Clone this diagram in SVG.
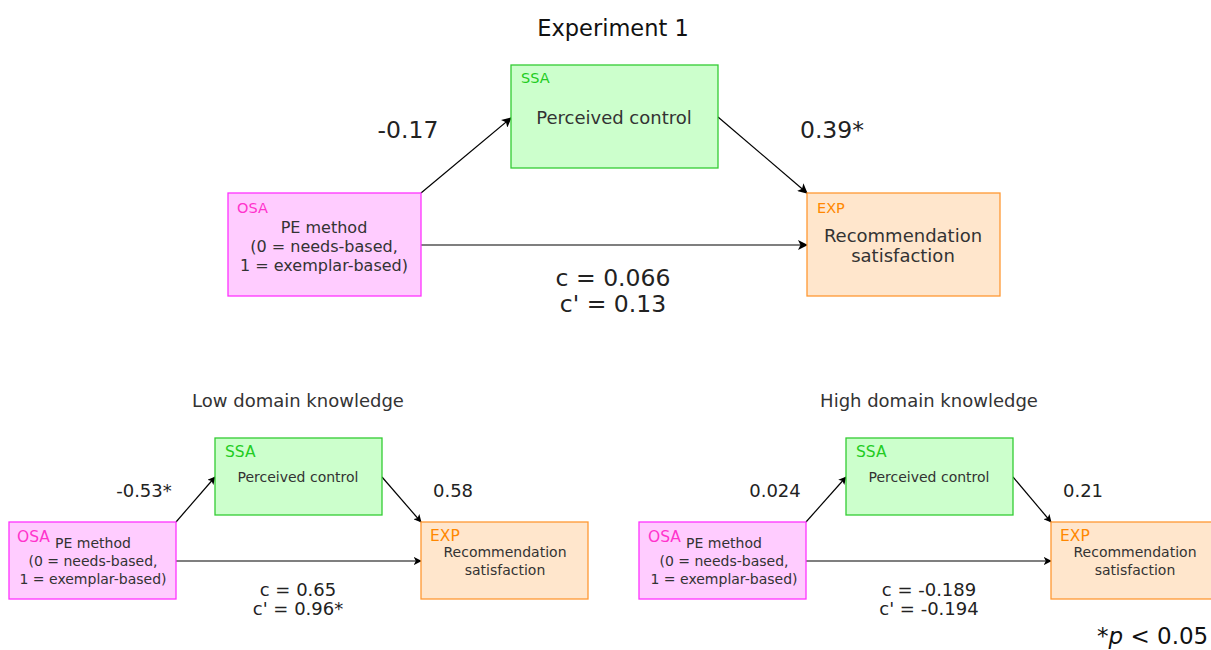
<svg xmlns="http://www.w3.org/2000/svg" width="1211" height="650" viewBox="0 0 1211 650">
  <defs>
    <marker id="arrow" viewBox="0 0 10 10" refX="9" refY="5" markerWidth="8" markerHeight="8" markerUnits="userSpaceOnUse" orient="auto">
      <path d="M0,0 L10,5 L0,10 L2.5,5 Z" fill="#000"/>
    </marker>
    <marker id="arrow-big" viewBox="0 0 10 10" refX="9" refY="5" markerWidth="10" markerHeight="10" markerUnits="userSpaceOnUse" orient="auto">
      <path d="M0,0 L10,5 L0,10 L2.5,5 Z" fill="#000"/>
    </marker>
  </defs>
  <style>
    text { font-family: "DejaVu Sans", "Liberation Sans", sans-serif; }
    .ssa { fill: #ccffcc; stroke: #33cc33; stroke-width: 1.3; }
    .osa { fill: #ffccff; stroke: #ff33ff; stroke-width: 1.3; }
    .exp { fill: #ffe6cc; stroke: #ff9933; stroke-width: 1.3; }
    .tag-ssa { fill: #22cc22; }
    .tag-osa { fill: #ff33cc; }
    .tag-exp { fill: #ff8800; }
    .node { fill: #333333; text-anchor: middle; }
    .lbl { fill: #222222; text-anchor: middle; }
    .edge { stroke: #000; stroke-width: 1.2; fill: none; }
  </style>
  <rect width="1211" height="650" fill="#ffffff"/>

  <!-- Experiment 1 (full sample) -->
  <text x="613" y="36" text-anchor="middle" font-size="22.5" fill="#111">Experiment 1</text>

  <g id="connectors-top">
    <path class="edge" d="M421,193 L511,118" marker-end="url(#arrow-big)"/>
    <path class="edge" d="M718,117 L807,193" marker-end="url(#arrow-big)"/>
    <path class="edge" d="M421,245 L807,245" marker-end="url(#arrow-big)"/>
  </g>

  <g id="top-ssa">
    <rect class="ssa" x="511" y="65" width="207" height="103"/>
    <text class="tag-ssa" x="521" y="83" font-size="14.5">SSA</text>
    <text class="node" x="614" y="124" font-size="18">Perceived control</text>
  </g>
  <g id="top-osa">
    <rect class="osa" x="228" y="193" width="193" height="103"/>
    <text class="tag-osa" x="237" y="213" font-size="14.5">OSA</text>
    <text class="node" x="324" y="233" font-size="16">PE method</text>
    <text class="node" x="324" y="252" font-size="16">(0 = needs-based,</text>
    <text class="node" x="324" y="271" font-size="16">1 = exemplar-based)</text>
  </g>
  <g id="top-exp">
    <rect class="exp" x="807" y="193" width="193" height="103"/>
    <text class="tag-exp" x="817" y="213" font-size="14.5">EXP</text>
    <text class="node" x="903" y="242" font-size="18">Recommendation</text>
    <text class="node" x="903" y="262" font-size="18">satisfaction</text>
  </g>

  <g id="labels-top">
    <text class="lbl" x="408" y="138" font-size="23.5">-0.17</text>
    <text class="lbl" x="832" y="138" font-size="23.5">0.39*</text>
    <text class="lbl" x="613" y="286" font-size="23.5">c = 0.066</text>
    <text class="lbl" x="613" y="312" font-size="23.5">c' = 0.13</text>
  </g>

  <!-- Low domain knowledge -->
  <text x="298" y="407" text-anchor="middle" font-size="18" fill="#333">Low domain knowledge</text>

  <g id="connectors-low">
    <path class="edge" d="M176,522 L215,477" marker-end="url(#arrow)"/>
    <path class="edge" d="M382,477 L421,522" marker-end="url(#arrow)"/>
    <path class="edge" d="M176,561 L421,561" marker-end="url(#arrow)"/>
  </g>

  <g id="low-ssa">
    <rect class="ssa" x="215" y="438" width="167" height="77"/>
    <text class="tag-ssa" x="225" y="457" font-size="15.5">SSA</text>
    <text class="node" x="298" y="482" font-size="14">Perceived control</text>
  </g>
  <g id="low-osa">
    <rect class="osa" x="9" y="522" width="167" height="77"/>
    <text class="tag-osa" x="17" y="542" font-size="15.5">OSA</text>
    <text class="node" x="93" y="548" font-size="14">PE method</text>
    <text class="node" x="93" y="566" font-size="14">(0 = needs-based,</text>
    <text class="node" x="93" y="584" font-size="14">1 = exemplar-based)</text>
  </g>
  <g id="low-exp">
    <rect class="exp" x="421" y="522" width="167" height="77"/>
    <text class="tag-exp" x="430" y="541" font-size="15.5">EXP</text>
    <text class="node" x="505" y="557" font-size="14">Recommendation</text>
    <text class="node" x="505" y="575" font-size="14">satisfaction</text>
  </g>

  <g id="labels-low">
    <text class="lbl" x="144" y="497" font-size="18">-0.53*</text>
    <text class="lbl" x="453" y="497" font-size="18">0.58</text>
    <text class="lbl" x="298" y="596" font-size="18">c = 0.65</text>
    <text class="lbl" x="298" y="615" font-size="18">c' = 0.96*</text>
  </g>

  <!-- High domain knowledge -->
  <text x="929" y="407" text-anchor="middle" font-size="18" fill="#333">High domain knowledge</text>

  <g id="connectors-high">
    <path class="edge" d="M806,522 L846,477" marker-end="url(#arrow)"/>
    <path class="edge" d="M1013,477 L1051,522" marker-end="url(#arrow)"/>
    <path class="edge" d="M806,561 L1051,561" marker-end="url(#arrow)"/>
  </g>

  <g id="high-ssa">
    <rect class="ssa" x="846" y="438" width="167" height="77"/>
    <text class="tag-ssa" x="856" y="457" font-size="15.5">SSA</text>
    <text class="node" x="929" y="482" font-size="14">Perceived control</text>
  </g>
  <g id="high-osa">
    <rect class="osa" x="639" y="522" width="167" height="77"/>
    <text class="tag-osa" x="648" y="542" font-size="15.5">OSA</text>
    <text class="node" x="724" y="548" font-size="14">PE method</text>
    <text class="node" x="724" y="566" font-size="14">(0 = needs-based,</text>
    <text class="node" x="724" y="584" font-size="14">1 = exemplar-based)</text>
  </g>
  <g id="high-exp">
    <rect class="exp" x="1051" y="522" width="167" height="77"/>
    <text class="tag-exp" x="1060" y="541" font-size="15.5">EXP</text>
    <text class="node" x="1135" y="557" font-size="14">Recommendation</text>
    <text class="node" x="1135" y="575" font-size="14">satisfaction</text>
  </g>

  <g id="labels-high">
    <text class="lbl" x="775" y="497" font-size="18">0.024</text>
    <text class="lbl" x="1083" y="497" font-size="18">0.21</text>
    <text class="lbl" x="929" y="596" font-size="18">c = -0.189</text>
    <text class="lbl" x="929" y="615" font-size="18">c' = -0.194</text>
  </g>

  <text x="1097" y="644" font-size="23" fill="#111">*<tspan font-style="italic">p</tspan> &lt; 0.05</text>
</svg>
